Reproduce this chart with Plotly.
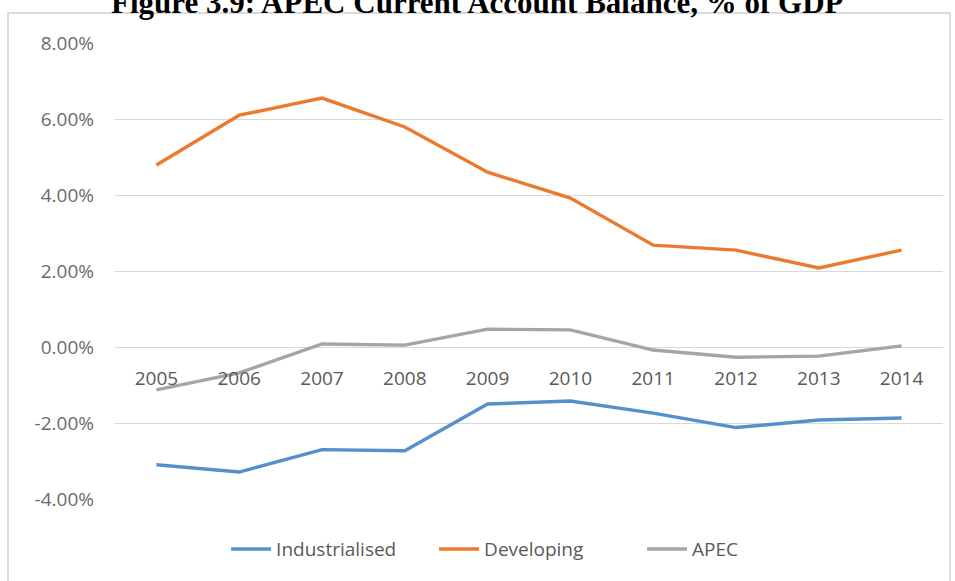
import plotly.graph_objects as go

years = ["2005", "2006", "2007", "2008", "2009", "2010", "2011", "2012", "2013", "2014"]
industrialised = [-3.10, -3.29, -2.70, -2.73, -1.50, -1.42, -1.74, -2.12, -1.92, -1.87]
developing = [4.79, 6.10, 6.55, 5.79, 4.60, 3.92, 2.68, 2.55, 2.08, 2.55]
apec = [-1.13, -0.68, 0.08, 0.05, 0.47, 0.45, -0.08, -0.27, -0.24, 0.03]
y_ticks = [-4, -2, 0, 2, 4, 6, 8]
y_tick_labels = ["-4.00%", "-2.00%", "0.00%", "2.00%", "4.00%", "6.00%", "8.00%"]

font_family = "Open Sans, Liberation Sans, sans-serif"
fig = go.Figure()
for name, vals, col in [("Industrialised", industrialised, "#5690CC"),
                        ("Developing", developing, "#EB7A30"),
                        ("APEC", apec, "#A5A5A5")]:
    fig.add_trace(go.Scatter(x=years, y=vals, mode="lines", name=name,
                             line=dict(color=col, width=3.4)))

fig.update_layout(
    width=955, height=581,
    margin=dict(l=115, r=12, t=43, b=82),
    paper_bgcolor="white", plot_bgcolor="white",
    font=dict(family=font_family, color="#6b6b6b", size=19),
    showlegend=True,
    legend=dict(orientation="h", x=0.511, xanchor="center", y=-0.11, yanchor="middle",
                font=dict(size=19, color="#595959"), itemwidth=40,
                entrywidth=153, entrywidthmode="pixels"),
    xaxis=dict(type="category", range=[-0.5, 9.5], anchor="free",
               position=4 / 12, showgrid=False, showline=False, zeroline=False,
               ticks="", ticklabelstandoff=18, tickfont=dict(size=19, color="#595959")),
    yaxis=dict(range=[-4, 8], tickvals=y_ticks, ticktext=y_tick_labels,
               showgrid=True, gridcolor="#d9d9d9", gridwidth=1.2,
               zeroline=False, showline=False, ticks="", ticklen=0,
               ticklabelstandoff=20,
               tickfont=dict(size=19, color="#6b6b6b")),
)

fig.add_shape(type="rect", xref="paper", yref="paper",
              x0=-0.1292, x1=1.0085, y0=-0.2, y1=1.0658,
              line=dict(color="#d0d0d0", width=1.5), fillcolor="rgba(0,0,0,0)", layer="below")

fig.add_annotation(text="<b>Figure 3.9: APEC Current Account Balance, % of GDP</b>",
                   xref="paper", yref="paper", x=0.438, y=1.088, xanchor="center", yanchor="middle",
                   showarrow=False,
                   font=dict(family="Liberation Serif, Times New Roman, serif", size=31, color="#000000"))

fig.write_html("out.html")
